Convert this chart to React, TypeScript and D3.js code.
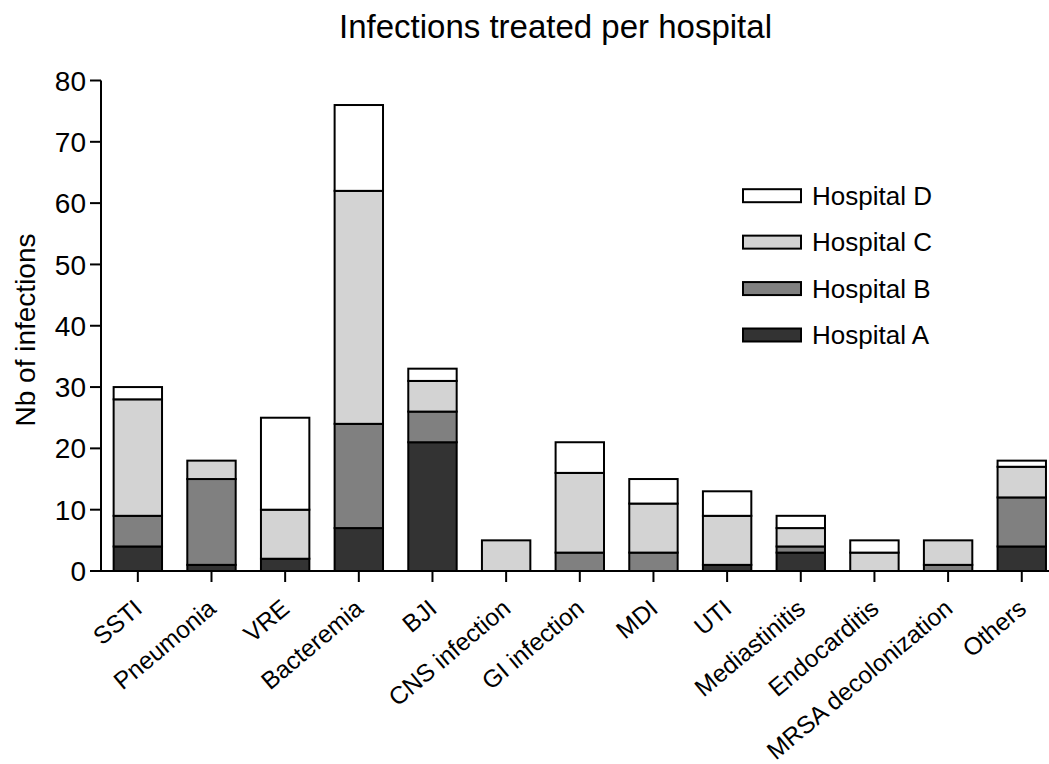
import React from "react";
import * as d3 from "d3";

const categories = [
  "SSTI", "Pneumonia", "VRE", "Bacteremia", "BJI", "CNS infection", "GI infection",
  "MDI", "UTI", "Mediastinitis", "Endocarditis", "MRSA decolonization", "Others",
];
const hospitalA = [4, 1, 2, 7, 21, 0, 0, 0, 1, 3, 0, 0, 4];
const hospitalB = [5, 14, 0, 17, 5, 0, 3, 3, 0, 1, 0, 1, 8];
const hospitalC = [19, 3, 8, 38, 5, 5, 13, 8, 8, 3, 3, 4, 5];
const hospitalD = [2, 0, 15, 14, 2, 0, 5, 4, 4, 2, 2, 0, 1];
const yTicks = [0, 10, 20, 30, 40, 50, 60, 70, 80];

const keys = ["Hospital A", "Hospital B", "Hospital C", "Hospital D"];
const colors: Record<string, string> = {
  "Hospital A": "#333333",
  "Hospital B": "#808080",
  "Hospital C": "#d3d3d3",
  "Hospital D": "#ffffff",
};

const width = 1049;
const height = 764;
const font = "Arial, 'Liberation Sans', sans-serif";

export default function App() {
  // build the table d3.stack wants
  const rows = categories.map((c, i) => ({
    cat: c,
    "Hospital A": hospitalA[i],
    "Hospital B": hospitalB[i],
    "Hospital C": hospitalC[i],
    "Hospital D": hospitalD[i],
  }));
  const stacked = d3.stack<any>().keys(keys)(rows);

  const x = d3.scaleBand<string>()
    .domain(categories)
    .range([101, 1058.6])
    .paddingInner(0.343)
    .paddingOuter(0.1715);
  const y = d3.scaleLinear().domain([0, 80]).range([571, 80.5]);

  const legendY = d3.scalePoint<string>()
    .domain(["Hospital D", "Hospital C", "Hospital B", "Hospital A"])
    .range([195.7, 335]);

  return (
    <svg width={width} height={height}
      style={{ position: "absolute", left: 0, top: 0, background: "#fff" }}
      fontFamily={font}>
      <text x={555.5} y={37.7} fontSize={33} textAnchor="middle">Infections treated per hospital</text>

      <text transform={`translate(34.5,330) rotate(-90)`} fontSize={28} textAnchor="middle">Nb of infections</text>

      {/* bars */}
      {stacked.map((layer) => (
        <g key={layer.key}>
          {layer.map((d, i) => {
            if (d[1] - d[0] <= 0) return null;
            return (
              <rect key={i}
                x={x(categories[i])}
                y={y(d[1])}
                width={x.bandwidth()}
                height={y(d[0]) - y(d[1])}
                fill={colors[layer.key]}
                stroke="#000"
                strokeWidth={2} />
            );
          })}
        </g>
      ))}

      {/* y axis */}
      <line x1={101} x2={101} y1={y(80)} y2={y(0)} stroke="#000" strokeWidth={2} />
      {yTicks.map((t) => (
        <g key={t}>
          <line x1={90} x2={101} y1={y(t)} y2={y(t)} stroke="#000" strokeWidth={2} />
          <text x={86} y={y(t)} dy="0.36em" fontSize={28} textAnchor="end">{t}</text>
        </g>
      ))}

      {/* x axis */}
      <line x1={100} x2={width} y1={y(0)} y2={y(0)} stroke="#000" strokeWidth={2} />
      {categories.map((c) => {
        const cx = x(c)! + x.bandwidth() / 2;
        return (
          <g key={c}>
            <line x1={cx} x2={cx} y1={y(0)} y2={y(0) + 11} stroke="#000" strokeWidth={2} />
            <text transform={`translate(${cx + 6},${611}) rotate(-40)`} fontSize={24.5} textAnchor="end">{c}</text>
          </g>
        );
      })}

      {/* legend */}
      {legendY.domain().map((k) => (
        <g key={k} transform={`translate(743,${legendY(k)})`}>
          <rect x={0} y={-6.5} width={58} height={13} fill={colors[k]} stroke="#000" strokeWidth={2} />
          <text x={69} y={0} dy="0.35em" fontSize={26}>{k}</text>
        </g>
      ))}
    </svg>
  );
}
